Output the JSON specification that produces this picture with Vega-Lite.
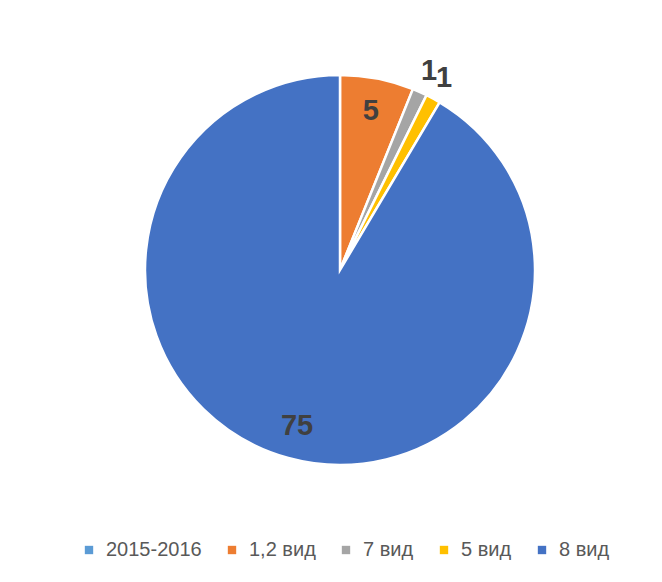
{
  "$schema": "https://vega.github.io/schema/vega-lite/v6.json",
  "width": 390,
  "height": 390,
  "autosize": {"type": "none"},
  "padding": {"left": 145, "top": 75, "right": 127, "bottom": 117},
  "background": "white",
  "config": {"view": {"stroke": null}, "font": "Liberation Sans"},
  "data": {
    "values": [
      {"cat": "2015-2016", "v": 0, "o": 1},
      {"cat": "1,2 вид", "v": 5, "o": 2},
      {"cat": "7 вид", "v": 1, "o": 3},
      {"cat": "5 вид", "v": 1, "o": 4},
      {"cat": "8 вид", "v": 75, "o": 5}
    ]
  },
  "encoding": {
    "theta": {"field": "v", "type": "quantitative", "stack": true},
    "order": {"field": "o", "type": "quantitative"}
  },
  "layer": [
    {
      "mark": {"type": "arc", "stroke": "white", "strokeWidth": 2.5},
      "encoding": {
        "color": {
          "field": "cat",
          "type": "nominal",
          "scale": {
            "domain": ["2015-2016", "1,2 вид", "7 вид", "5 вид", "8 вид"],
            "range": ["#5B9BD5", "#ED7D31", "#A5A5A5", "#FFC000", "#4472C4"]
          },
          "legend": {
            "title": null,
            "orient": "none",
            "legendX": -66,
            "legendY": 465,
            "direction": "horizontal",
            "symbolType": "square",
            "symbolSize": 70,
            "symbolStrokeWidth": 0,
            "labelFontSize": 20,
            "labelColor": "#595959",
            "labelFont": "Liberation Sans",
            "columnPadding": 20,
            "labelOffset": 7
          }
        }
      }
    },
    {
      "mark": {"type": "text", "radius": 162, "fontSize": 29, "fontWeight": "bold", "color": "#404040", "align": "center", "baseline": "middle"},
      "encoding": {
        "text": {"condition": {"test": "datum.v <= 1", "value": ""}, "field": "v", "type": "quantitative"}
      }
    },
    {
      "mark": {"type": "text", "radius": 218, "fontSize": 29, "fontWeight": "bold", "color": "#404040", "align": "center", "baseline": "middle"},
      "encoding": {
        "text": {"condition": {"test": "datum.v != 1", "value": ""}, "field": "v", "type": "quantitative"}
      }
    }
  ]
}
